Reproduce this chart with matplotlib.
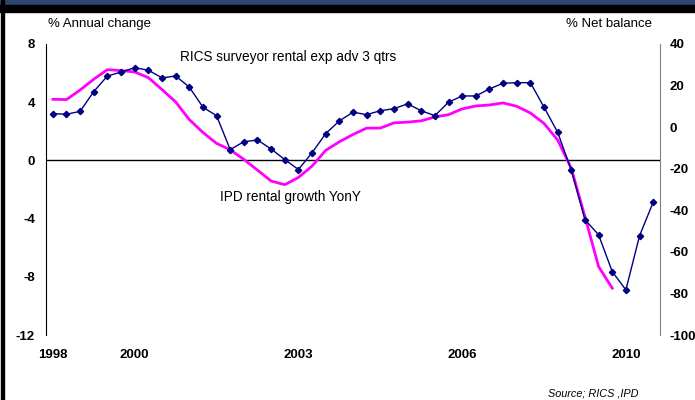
import numpy as np
import matplotlib.pyplot as plt
from matplotlib.patches import Rectangle

plt.rcParams['font.family'] = ['Liberation Sans', 'DejaVu Sans']
plt.rcParams['axes.unicode_minus'] = False

# RICS surveyor rental expectations, % net balance (quarterly, right axis)
rics = [6.5, 6.2, 7.6, 17.1, 24.6, 26.5, 28.6, 27.4, 23.7, 24.6,
        19.3, 9.6, 5.5, -10.8, -7.0, -6.2, -10.5, -15.6, -20.4, -12.3,
        -3.1, 3.0, 7.2, 6.0, 7.9, 8.9, 11.2, 7.9, 5.5, 12.0,
        15.0, 15.0, 18.4, 21.1, 21.4, 21.4, 9.6, -2.5, -20.7, -44.5,
        -51.8, -69.5, -78.3, -52.3, -36.1]

# IPD rental growth, % annual change (quarterly, left axis)
ipd = [4.20, 4.18, 4.84, 5.58, 6.24, 6.17, 6.08, 5.69, 4.87, 4.02,
       2.81, 1.92, 1.17, 0.73, 0.07, -0.67, -1.42, -1.67, -1.17, -0.39,
       0.69, 1.28, 1.78, 2.22, 2.22, 2.58, 2.63, 2.72, 2.99, 3.14,
       3.54, 3.74, 3.81, 3.95, 3.72, 3.26, 2.54, 1.40, -0.55, -3.87,
       -7.30, -8.78]

year_pos = [0, 6, 18, 30, 42]
year_labels = ['1998', '2000', '2003', '2006', '2010']
left_ticks = [8, 4, 0, -4, -8, -12]
right_ticks = [40, 20, 0, -20, -40, -60, -80, -100]

fig = plt.figure(figsize=(6.95, 4.0), dpi=100)
ax = fig.add_axes([46 / 695, 1 - 335 / 400, (660 - 46) / 695, (335 - 44) / 400])
ax2 = ax.twinx()

ax.plot(np.arange(len(ipd)), ipd, color='#ff00ff', lw=2.0, zorder=2)
ax2.plot(np.arange(len(rics)), rics, color='#000080', lw=1.0,
         marker='D', markersize=3.2, zorder=3)

ax.axhline(0, color='black', lw=1.0, zorder=1)

ax.set_xlim(-0.5, 44.5)
ax.set_ylim(-12, 8)
ax2.set_ylim(-100, 40)
ax.set_yticks(left_ticks)
ax2.set_yticks(right_ticks)
ax.set_xticks(year_pos)
ax.set_xticklabels(year_labels)

for a in (ax, ax2):
    for s in ('top', 'bottom'):
        a.spines[s].set_visible(False)
    a.tick_params(length=0, labelsize=9.5)
    for lab in a.get_xticklabels() + a.get_yticklabels():
        lab.set_fontweight('bold')
ax2.spines['left'].set_visible(False)
ax.spines['right'].set_visible(False)
ax.spines['left'].set_color('black')
ax2.spines['right'].set_color('#808080')
ax.tick_params(axis='x', pad=10)
ax.tick_params(axis='y', pad=8)
ax2.tick_params(axis='y', pad=7)

# labels and annotations
fig.text(48 / 695, 1 - 24 / 400, '% Annual change', fontsize=9.5, va='center', ha='left')
fig.text(652 / 695, 1 - 24 / 400, '% Net balance', fontsize=9.5, va='center', ha='right')
fig.text(180 / 695, 1 - 57 / 400, 'RICS surveyor rental exp adv 3 qtrs', fontsize=9.8,
         va='center', ha='left')
fig.text(220 / 695, 1 - 197 / 400, 'IPD rental growth YonY', fontsize=9.8,
         va='center', ha='left')
fig.text(638 / 695, 1 - 394 / 400, 'Source; RICS ,IPD', fontsize=7.8, style='italic',
         va='center', ha='right')

# frame: title bar and left edge
fig.patches.append(Rectangle((0, 1 - 5 / 400), 1, 5 / 400, transform=fig.transFigure,
                             color='#2f4672', zorder=0))
fig.patches.append(Rectangle((0, 1 - 12 / 400), 1, 7 / 400, transform=fig.transFigure,
                             color='black', zorder=0))
fig.patches.append(Rectangle((1 / 695, 0), 3 / 695, 1, transform=fig.transFigure,
                             color='black', zorder=0))

fig.savefig('out.png', dpi=100)
